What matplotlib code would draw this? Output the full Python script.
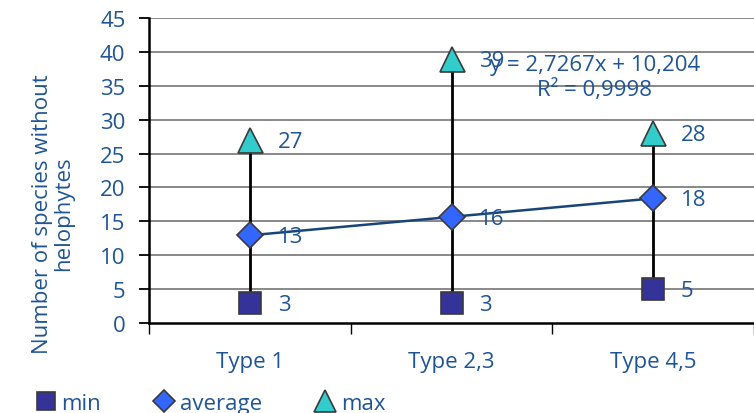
import matplotlib.pyplot as plt
import numpy as np

categories = ["Type 1", "Type 2,3", "Type 4,5"]
min_vals = [3, 3, 5]
avg_vals = [12.93, 15.67, 18.38]
max_vals = [27, 39, 28]
min_labels = ["3", "3", "5"]
avg_labels = ["13", "16", "18"]
max_labels = ["27", "39", "28"]

plt.rcParams['font.family'] = ['Open Sans', 'DejaVu Sans']
txt = "#1F5597"
fs = 16

fig = plt.figure(figsize=(7.54, 4.14), dpi=100)
ax = fig.add_axes([149/754, 90/414, 1 - 149/754, 305/414])

x = np.arange(1, len(categories) + 1)

# grid
for v in range(5, 50, 5):
    ax.axhline(v, color="#7f7f7f", lw=1.3, zorder=0)

# high-low lines
ax.vlines(x, min_vals, max_vals, color="black", lw=2, zorder=2)

# linear trend on average
k, b = np.polyfit(x, avg_vals, 1)
ax.plot(x, k * x + b, color="#17457a", lw=1.8, zorder=3)

ax.plot(x, min_vals, ls="none", marker="s", ms=15.5, mfc="#333399", mec="#3a3a3a", mew=1.2, zorder=4, label="min")
ax.plot(x, avg_vals, ls="none", marker="D", ms=13, mfc="#3366ff", mec="#3a3a3a", mew=1.2, zorder=4, label="average")
ax.plot(x, max_vals, ls="none", marker="^", ms=18, mfc="#33cccc", mec="#3a3a3a", mew=1.2, zorder=4, label="max")

for xs, vals, labs in [(x, min_vals, min_labels), (x, avg_vals, avg_labels), (x, max_vals, max_labels)]:
    for xi, v, l in zip(xs, vals, labs):
        ax.annotate(l, (xi, v), xytext=(20, -1), textcoords="offset points",
                    ha="left", va="center", fontsize=fs, color=txt, zorder=5)

ax.text(2.71, 36.3, "y = 2,7267x + 10,204\nR\u00b2 = 0,9998", ha="center", va="center",
        fontsize=fs, color=txt, linespacing=1.15, zorder=5)

ax.set_xlim(0.5, 3.5)
ax.set_ylim(0, 45)
ax.set_yticks(range(0, 50, 5))
ax.set_xticks(x)
ax.set_xticklabels(categories)
ax.set_xticks([0.5, 1.5, 2.5, 3.5], minor=True)
ax.tick_params(axis="x", which="major", length=0, pad=20, labelsize=fs, labelcolor=txt)
ax.tick_params(axis="x", which="minor", length=8, width=1, direction="out")
ax.tick_params(axis="y", length=7, width=1.3, labelsize=fs, labelcolor=txt, pad=10)
for s in ["top", "right"]:
    ax.spines[s].set_visible(False)
ax.spines["left"].set_linewidth(1.8)
ax.spines["bottom"].set_linewidth(1.8)

fig.text(53/754, 200/414, "Number of species without\nhelophytes", rotation=90,
         ha="center", va="center", fontsize=fs, color=txt, linespacing=1.05)

fig.legend(loc="lower left", bbox_to_anchor=(10/754, -0.05), ncol=3, frameon=False,
           fontsize=fs, labelcolor=txt, handletextpad=0.0, columnspacing=2.15,
           markerscale=0.85, handlelength=1.4)

fig.savefig("out.png", dpi=100)
